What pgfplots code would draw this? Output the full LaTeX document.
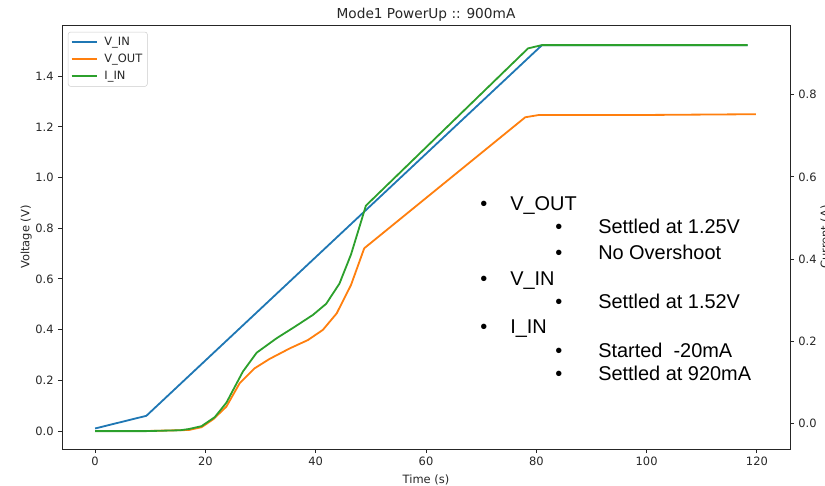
\documentclass[border=0pt]{standalone}
\usepackage{pgfplots}
\usepackage{pgfplotstable}
\pgfplotsset{compat=1.18}
\usepackage{fontspec}
\setmainfont{DejaVu Sans}
\newfontfamily\notefont{Liberation Sans}

\definecolor{mplblue}{HTML}{1F77B4}
\definecolor{mplorange}{HTML}{FF7F0E}
\definecolor{mplgreen}{HTML}{2CA02C}
\definecolor{spine}{HTML}{262626}

% Input voltage (V)
\pgfplotstableread{
t v
0 0.010
9.3 0.060
81 1.522
118.3 1.522
}\vin

% Output voltage (V)
\pgfplotstableread{
t v
0 0.000
9.3 0.000
17.0 0.004
19.3 0.015
21.4 0.046
23.8 0.096
26.2 0.188
28.9 0.247
31.6 0.284
35.3 0.326
38.6 0.359
41.3 0.399
43.8 0.464
46.4 0.576
48.8 0.721
78.0 1.238
80.5 1.247
100.0 1.247
119.8 1.250
}\vout

% Input current (A)
\pgfplotstableread{
t i
0 -0.019
9.3 -0.019
15.4 -0.017
17.0 -0.014
19.3 -0.007
21.7 0.015
23.8 0.050
26.8 0.126
29.3 0.172
32.9 0.207
36.2 0.235
39.5 0.264
41.9 0.291
44.3 0.340
46.4 0.411
48.2 0.490
49.1 0.530
78.5 0.913
81.0 0.921
118.3 0.921
}\iin

\pgfplotsset{
  /pgf/number format/assume math mode=true,
  mplaxis/.style={
    scale only axis, width=582.4bp, height=339.2bp,
    xmin=-6, xmax=126,
    font=\fontsize{9.2}{11}\selectfont,
    tick align=outside,
    major tick length=3.2bp,
    every tick/.style={spine, line width=0.74bp},
    axis line style={spine, line width=0.74bp},
    tick label style={text=spine},
    label style={text=spine},
    yticklabel style={/pgf/number format/.cd, fixed, fixed zerofill, precision=1},
    every axis plot/.append style={line width=1.45bp, line join=round},
  },
}

\begin{document}
\begin{tikzpicture}
\begin{axis}[
  mplaxis, name=main,
  tick pos=left,
  ymin=-0.071, ymax=1.602,
  xtick={0,20,40,60,80,100,120},
  ytick={0,0.2,0.4,0.6,0.8,1.0,1.2,1.4},
  title={Mode1 PowerUp :: 900mA},
  every axis title/.style={at={(rel axis cs:0.5,1)}, anchor=base, yshift=4.8bp,
    font=\fontsize{11}{13}\selectfont, text=spine},
  xlabel={Time (s)},
  xlabel style={at={([yshift=-27.2bp]rel axis cs:0.5,0)}, anchor=base},
  ylabel={Voltage (V)},
  ylabel style={at={([xshift=-26bp]rel axis cs:0,0.5)}, anchor=base, rotate=0},
]
\addplot[mplblue] table[x=t, y=v] {\vin};
\addplot[mplorange] table[x=t, y=v] {\vout};
\end{axis}

\begin{axis}[
  mplaxis,
  axis x line=none,
  axis y line*=right,
  ymin=-0.0626, ymax=0.970,
  ytick={0,0.2,0.4,0.6,0.8},
  ylabel={Current (A)},
  ylabel style={at={([xshift=31.2bp]rel axis cs:1,0.5)}, anchor=base},
  legend cell align=left,
  legend image code/.code={\draw[#1] (0bp,0bp) -- (20bp,0bp); \path (23.5bp,0bp);},
  legend style={
    at={(0.0082,0.984)}, anchor=north west,
    draw=black!20, rounded corners=2bp, fill=white, fill opacity=0.8, text opacity=1,
    inner xsep=2bp, inner ysep=1.5bp, row sep=0pt,
    nodes={inner sep=2bp, text height=7.2bp, text depth=2.3bp, text=spine},
    font=\fontsize{9.2}{11}\selectfont,
  },
]
\addlegendimage{mplblue, line width=1.45bp}
\addlegendentry{V\_IN}
\addlegendimage{mplorange, line width=1.45bp}
\addlegendentry{V\_OUT}
\addplot[mplgreen] table[x=t, y=i] {\iin};
\addlegendentry{I\_IN}
\end{axis}

% Annotation list
\begin{scope}[shift={(main.south west)},
  every node/.style={anchor=base west, inner sep=0pt, font=\notefont\fontsize{16}{19}\selectfont}]
  \node at (334.4bp,190.4bp) {•}; \node at (358.4bp,190.4bp) {V\_OUT};
  \node at (394.4bp,172.0bp) {•}; \node at (428.8bp,172.0bp) {Settled at 1.25V};
  \node at (394.4bp,151.2bp) {•}; \node at (428.8bp,151.2bp) {No Overshoot};
  \node at (334.4bp,130.4bp) {•}; \node at (358.4bp,130.4bp) {V\_IN};
  \node at (394.4bp,112.0bp) {•}; \node at (428.8bp,112.0bp) {Settled at 1.52V};
  \node at (334.4bp,92.0bp) {•};  \node at (358.4bp,92.0bp) {I\_IN};
  \node at (394.4bp,72.8bp) {•};  \node at (428.8bp,72.8bp) {Started\ \ -20mA};
  \node at (394.4bp,54.4bp) {•};  \node at (428.8bp,54.4bp) {Settled at 920mA};
\end{scope}

\pgfresetboundingbox
\path[use as bounding box] ([shift={(-49.6bp,-29.6bp)}]main.south west) rectangle ([shift={(28bp,20bp)}]main.north east);
\end{tikzpicture}
\end{document}
